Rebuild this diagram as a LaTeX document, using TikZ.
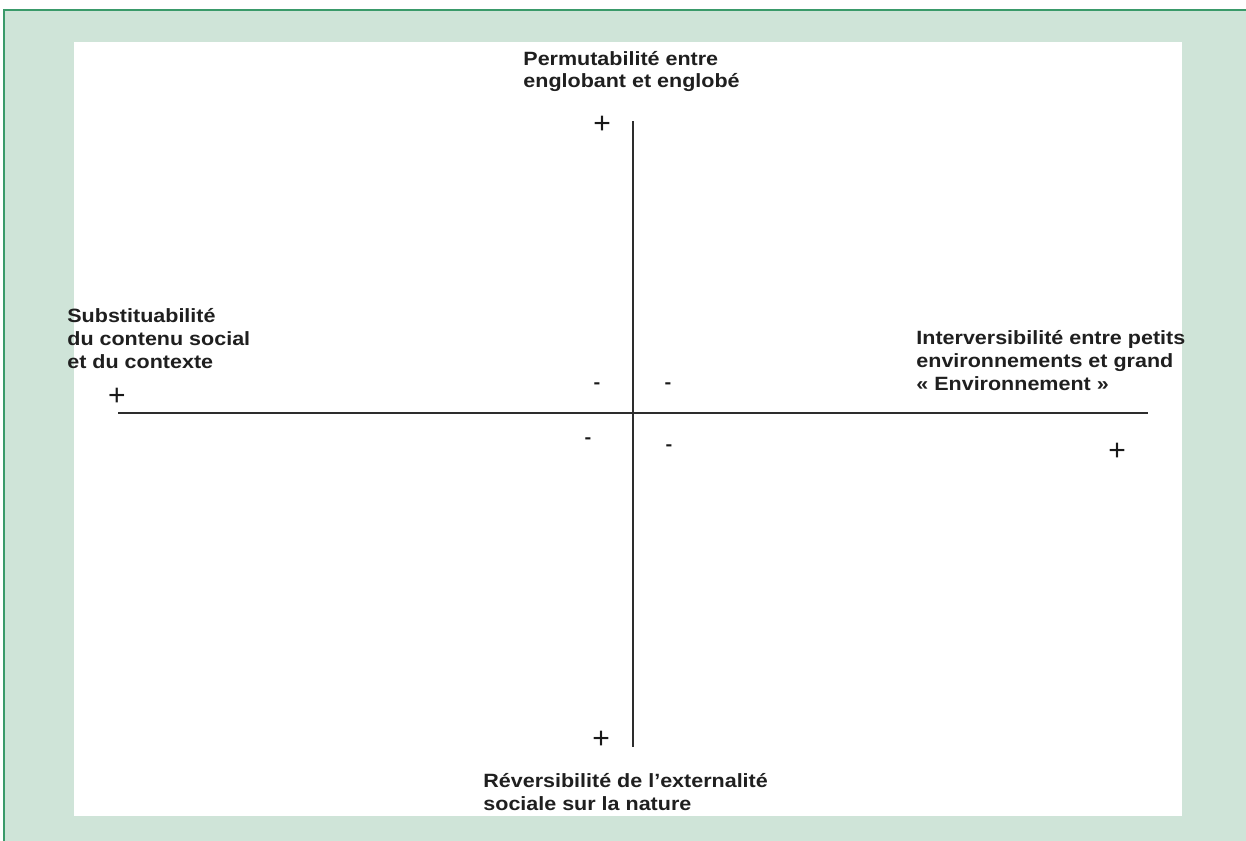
\documentclass[tikz,border=0pt]{standalone}
\usepackage{fontspec}
\setmainfont{Liberation Sans}[FakeStretch=1.12]
\newfontfamily\plusfont{Liberation Sans}
\usepackage{xcolor}
\definecolor{mint}{RGB}{207,228,216}
\definecolor{frame}{RGB}{58,154,106}
\definecolor{axis}{RGB}{45,45,45}

\begin{document}
\begin{tikzpicture}[x=0.5pt,y=-0.5pt,
    lbl/.style={anchor=base west, align=left, inner sep=0pt, font=\bfseries\fontsize{9.6}{11.4}\selectfont, text=black!88},
    pl/.style={inner sep=0pt, yshift=-1pt, font=\plusfont\fontsize{15}{15}\selectfont, text=black!90},
    mn/.style={inner sep=0pt, font=\bfseries\fontsize{9}{9}\selectfont, text=black!90}]
        \useasboundingbox (0,0) rectangle (1246,840);
        \fill[mint] (4,10) rectangle (1250,845);
        \draw[frame, line width=1pt] (4,845) -- (4,10) -- (1250,10);
        \fill[white] (74,42) rectangle (1182,816);

        \coordinate (w) at (118,413);
        \coordinate (e) at (1148,413);
        \coordinate (n) at (633,121);
        \coordinate (s) at (633,747);

        \draw[axis, line width=0.9pt] (w) -- (e);
        \draw[axis, line width=0.9pt] (n) -- (s);

        \node[lbl] (top) at (523,88) {Permutabilité entre\\englobant et englobé};
        \node[lbl] (left) at (67,368) {Substituabilité\\du contenu social\\et du contexte};
        \node[lbl] (right) at (916,390) {Interversibilité entre petits\\environnements et grand\\« Environnement »};
        \node[lbl] (bottom) at (483,810) {Réversibilité de l’externalité\\sociale sur la nature};

        \node[pl] (ptop) at (602,123) {+};
        \node[pl] (pleft) at (117,395) {+};
        \node[pl] (pright) at (1117,450) {+};
        \node[pl] (pbottom) at (601,738) {+};

        \node[mn] (m1) at (597,386) {-};
        \node[mn] (m2) at (668,386) {-};
        \node[mn] (m3) at (588,441) {-};
        \node[mn] (m4) at (669,448) {-};
    \end{tikzpicture}
\end{document}
